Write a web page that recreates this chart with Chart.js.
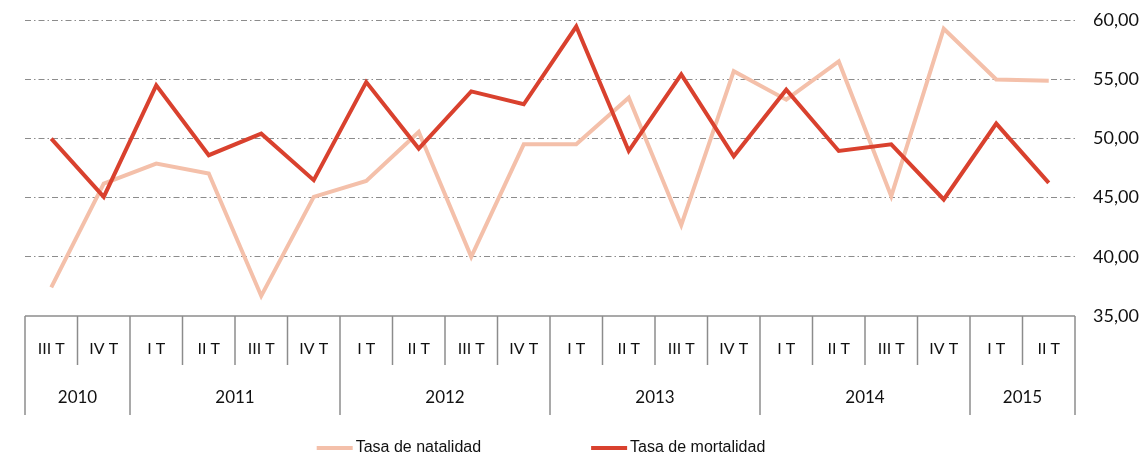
<!DOCTYPE html>
<html>
<head>
<meta charset="utf-8">
<script src="https://cdn.jsdelivr.net/npm/chart.js@4/dist/chart.umd.min.js"></script>
<style>
  html, body { margin: 0; padding: 0; background: #fff; }
  #wrap { width: 1142px; height: 461px; }
</style>
</head>
<body>
<div id="wrap"><canvas id="tasas"></canvas></div>
<script>
const quarters = ["III T", "IV T", "I T", "II T", "III T", "IV T", "I T", "II T", "III T", "IV T",
                  "I T", "II T", "III T", "IV T", "I T", "II T", "III T", "IV T", "I T", "II T"];
const years = ["2010", "2010", "2011", "2011", "2011", "2011", "2012", "2012", "2012", "2012",
               "2013", "2013", "2013", "2013", "2014", "2014", "2014", "2014", "2015", "2015"];
const natalidad = [37.42, 46.19, 47.87, 47.03, 36.69, 45.06, 46.41, 50.54, 40.0, 49.5,
                   49.5, 53.44, 42.67, 55.68, 53.27, 56.5, 45.12, 59.26, 54.98, 54.87];
const mortalidad = [49.98, 45.06, 54.48, 48.58, 50.4, 46.47, 54.76, 49.14, 53.97, 52.88,
                    59.45, 48.94, 55.4, 48.49, 54.11, 48.94, 49.5, 44.84, 51.25, 46.24];

const tableColor = "#8c8c8c";
const labelFont = "16px Lato, 'Open Sans', sans-serif";

// category table under the plot + legend, drawn from the x scale
const tablePlugin = {
    id: "tablePlugin",
    afterDraw(chart) {
        const ctx = chart.ctx;
        const x = chart.scales.x;
        const area = chart.chartArea;
        const half = (x.getPixelForValue(1) - x.getPixelForValue(0)) / 2;
        const bottom = area.bottom;

        ctx.save();
        ctx.strokeStyle = tableColor;
        ctx.lineWidth = 1.5;
        ctx.beginPath();
        ctx.moveTo(x.getPixelForValue(0) - half, bottom);
        ctx.lineTo(x.getPixelForValue(quarters.length - 1) + half, bottom);
        ctx.stroke();

        for (let i = 0; i <= quarters.length; i++) {
            const px = i < quarters.length ? x.getPixelForValue(i) - half : x.getPixelForValue(i - 1) + half;
            const yearEdge = i === 0 || i === quarters.length || years[i] !== years[i - 1];
            ctx.beginPath();
            ctx.moveTo(px, bottom);
            ctx.lineTo(px, bottom + (yearEdge ? 99 : 49));
            ctx.stroke();
        }

        ctx.fillStyle = "#111";
        ctx.font = labelFont;
        ctx.textAlign = "center";
        ctx.textBaseline = "middle";
        quarters.forEach((q, i) => ctx.fillText(q, x.getPixelForValue(i), bottom + 33));

        ctx.font = "17px Lato, 'Open Sans', sans-serif";
        let start = 0;
        for (let i = 1; i <= years.length; i++) {
            if (i === years.length || years[i] !== years[start]) {
                const mid = (x.getPixelForValue(start) + x.getPixelForValue(i - 1)) / 2;
                ctx.fillText(years[start], mid, bottom + 82);
                start = i;
            }
        }

        // legend
        ctx.font = "16px 'Liberation Sans', Arial, sans-serif";
        ctx.textAlign = "left";
        const sets = chart.data.datasets;
        const sample = 36, gapText = 3, gapItem = 110;
        const widths = sets.map(d => sample + gapText + ctx.measureText(d.label).width);
        const total = widths.reduce((a, b) => a + b, 0) + gapItem * (sets.length - 1);
        let lx = (area.left + area.right) / 2 - 9 - total / 2;
        const ly = 448;
        sets.forEach((d, i) => {
            ctx.strokeStyle = d.borderColor;
            ctx.lineWidth = 4;
            ctx.beginPath();
            ctx.moveTo(lx, ly);
            ctx.lineTo(lx + sample, ly);
            ctx.stroke();
            ctx.fillStyle = "#111";
            ctx.fillText(d.label, lx + sample + gapText, ly);
            lx += widths[i] + gapItem;
        });
        ctx.restore();
    }
};

new Chart(document.getElementById("tasas"), {
    type: "line",
    data: {
        labels: quarters,
        datasets: [{
            label: "Tasa de natalidad",
            data: natalidad,
            borderColor: "#f4c0aa",
            backgroundColor: "#f4c0aa",
            borderWidth: 4,
            pointRadius: 0,
            tension: 0,
            order: 1
        }, {
            label: "Tasa de mortalidad",
            data: mortalidad,
            borderColor: "#d9412e",
            backgroundColor: "#d9412e",
            borderWidth: 4,
            pointRadius: 0,
            tension: 0,
            order: 0
        }]
    },
    options: {
        responsive: true,
        maintainAspectRatio: false,
        animation: false,
        layout: { padding: { left: 25, top: 20, right: 0, bottom: 45 } },
        plugins: {
            legend: { display: false },
            tooltip: { enabled: false }
        },
        scales: {
            x: {
                offset: true,
                grid: { display: false },
                border: { display: false },
                ticks: { display: false },
                afterFit: s => { s.height = 100; }
            },
            y: {
                position: "right",
                min: 35,
                max: 60,
                ticks: {
                    stepSize: 5,
                    padding: 18,
                    color: "#111",
                    font: { family: "Lato, 'Open Sans', sans-serif", size: 18 },
                    callback: v => v.toFixed(2).replace(".", ",")
                },
                grid: {
                    drawTicks: false,
                    lineWidth: 1,
                    color: c => c.tick && c.tick.value === 35 ? "rgba(0,0,0,0)" : tableColor
                },
                border: { display: false, dash: [6, 3, 1.5, 3] },
                afterFit: s => { s.width = 67; s.paddingTop = 0; s.paddingBottom = 0; }
            }
        }
    },
    plugins: [tablePlugin]
});
</script>
</body>
</html>
